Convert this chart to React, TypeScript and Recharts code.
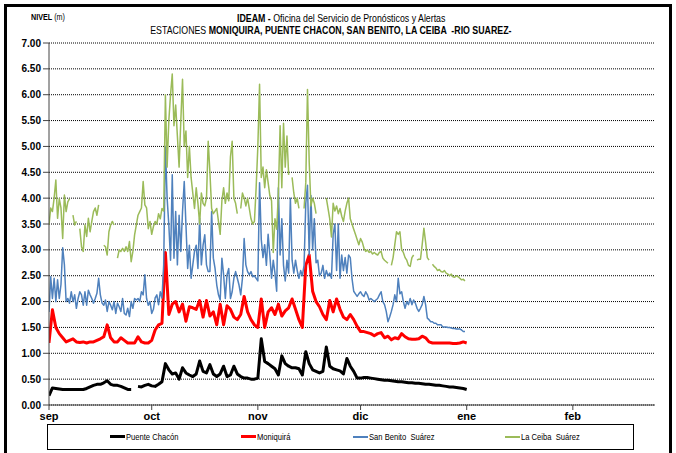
import React from 'react';
import { LineChart, Line, XAxis, YAxis, CartesianGrid } from 'recharts';

// eje X: dias desde el 1 de septiembre
const MONTHS = ['sep', 'oct', 'nov', 'dic', 'ene', 'feb'];
const MONTH_START_DAYS = [0, 30, 61, 91, 122, 153];
const LEVEL_TICKS = [0, 0.5, 1, 1.5, 2, 2.5, 3, 3.5, 4, 4.5, 5, 5.5, 6, 6.5, 7];

const SERIES_NAMES = ['Puente Chacón', 'Moniquirá', 'San Benito  Suárez', 'La Ceiba  Suárez'];
const SERIES_COLORS = ['#000000', '#ff0000', '#4f81bd', '#9bbb59'];

// Puente Chacón, una lectura diaria (sep 1 - ene 1)
const PUENTE_CHACON = [
  0.18, 0.33, 0.32, 0.31, 0.30, 0.30, 0.30, 0.30, 0.30, 0.30,
  0.30, 0.32, 0.35, 0.38, 0.40, 0.40, 0.43, 0.47, 0.40, 0.38,
  0.38, 0.36, 0.33, 0.30, 0.30, null, 0.36, 0.35, 0.38, 0.40,
  0.37, 0.36, 0.40, 0.45, 0.80, 0.68, 0.60, 0.62, 0.50, 0.72,
  0.62, 0.58, 0.55, 0.60, 0.85, 0.65, 0.62, 0.78, 0.60, 0.55,
  0.60, 0.75, 0.55, 0.58, 0.75, 0.60, 0.55, 0.52, 0.52, 0.50,
  0.50, 0.52, 1.28, 0.84, 0.80, 0.75, 0.70, 0.58, 0.95, 0.80,
  0.75, 0.72, 0.72, 0.70, 0.58, 1.03, 0.80, 0.68, 0.65, 0.62,
  0.65, 1.12, 0.75, 0.70, 0.68, 0.66, 0.60, 0.90, 0.75, 0.65,
  0.52, 0.52, 0.53, 0.53, 0.52, 0.51, 0.50, 0.49, 0.48, 0.48,
  0.47, 0.46, 0.45, 0.45, 0.44, 0.43, 0.43, 0.42, 0.42, 0.41,
  0.40, 0.40, 0.39, 0.38, 0.38, 0.37, 0.36, 0.35, 0.35, 0.34,
  0.33, 0.32, 0.30,
];

// Moniquirá, una lectura diaria
const MONIQUIRA = [
  1.20, 1.84, 1.50, 1.38, 1.30, 1.22, 1.25, 1.28, 1.22, 1.21,
  1.22, 1.20, 1.22, 1.22, 1.25, 1.28, 1.32, 1.55, 1.30, 1.22,
  1.22, 1.30, 1.25, 1.20, 1.20, 1.20, 1.32, 1.22, 1.20, 1.20,
  1.25, 1.45, 1.55, 1.58, 2.95, 1.75, 1.95, 2.00, 1.80, 1.95,
  1.62, 1.90, 1.88, 1.85, 2.02, 1.70, 2.02, 1.72, 1.80, 1.55,
  1.95, 1.55, 1.92, 1.85, 1.70, 1.65, 1.75, 2.10, 1.80, 1.65,
  1.55, 1.50, 2.05, 1.50, 1.80, 1.88, 1.75, 1.95, 1.72, 1.82,
  1.88, 2.05, 1.85, 1.65, 1.50, 2.70, 2.90, 2.20, 2.00, 1.90,
  1.75, 1.65, 2.02, 1.80, 2.05, 1.85, 1.70, 1.65, 1.75, 1.65,
  1.52, 1.42, 1.42, 1.40, 1.38, 1.34, 1.38, 1.40, 1.30, 1.33,
  1.26, 1.30, 1.28, 1.38, 1.32, 1.28, 1.27, 1.27, 1.28, 1.33,
  1.30, 1.22, 1.20, 1.20, 1.20, 1.20, 1.20, 1.20, 1.19, 1.19,
  1.20, 1.22, 1.20,
];

// San Benito Suárez, dos lecturas diarias
const SAN_BENITO = [
  1.80, 2.48, 2.06, 2.45, 2.00, 2.42, 2.06, 2.33, 3.04, 2.71,
  2.00, 2.06, 1.97, 2.19, 2.00, 2.13, 1.87, 2.06, 2.19, 2.13,
  1.93, 2.19, 1.93, 2.22, 2.13, 2.06, 1.97, 2.06, 2.16, 2.45,
  2.13, 1.97, 1.93, 2.03, 1.81, 2.00, 1.93, 1.84, 2.00, 1.77,
  1.97, 1.90, 1.81, 2.06, 1.77, 1.74, 1.87, 1.71, 2.00, 1.87,
  2.06, 2.03, 2.06, 2.00, 2.19, 2.13, 2.52, 2.06, 1.93, 2.00,
  1.77, 1.85, 2.07, 2.13, 1.94, 2.19, 2.07, 2.71, 5.00, 4.00,
  3.48, 2.80, 4.45, 2.84, 3.74, 2.71, 3.67, 2.97, 3.74, 4.32,
  3.48, 2.64, 3.09, 2.45, 2.71, 2.97, 3.09, 2.64, 3.61, 2.71,
  3.09, 3.29, 2.71, 2.58, 2.58, 3.74, 2.84, 2.64, 2.32, 2.13,
  2.03, 2.84, 2.52, 2.06, 2.52, 2.64, 2.06, 2.19, 2.45, 2.58,
  2.45, 2.32, 2.13, 2.45, 3.22, 2.71, 2.58, 2.52, 2.58, 2.48,
  2.50, 2.45, 2.40, 4.30, 3.20, 2.85, 3.10, 2.70, 3.30, 2.90,
  2.45, 2.80, 2.55, 2.20, 4.20, 2.90, 3.60, 2.70, 2.40, 2.80,
  2.55, 4.00, 2.80, 2.55, 2.80, 2.60, 2.45, 2.60, 2.50, 2.70,
  3.90, 4.25, 2.90, 4.05, 3.00, 3.60, 2.75, 2.80, 2.50, 2.55,
  2.70, 2.45, 2.60, 2.50, 2.55, 2.45, 3.30, 3.50, 2.60, 3.50,
  2.45, 2.90, 2.60, 2.85, 2.55, 2.90, 2.85, 2.45, 2.20, 2.15,
  2.10, 2.15, 2.19, 2.13, 2.10, 2.19, 2.13, 2.03, 2.06, 2.03,
  2.00, 2.03, 2.06, 2.13, 2.19, 2.00, 1.94, 1.81, 1.61, 1.70,
  1.81, 1.94, 2.13, 2.00, 2.45, 2.15, 2.19, 2.00, 1.87, 2.00,
  1.94, 2.06, 1.94, 2.03, 1.97, 1.87, 1.81, 1.87, 1.94, 2.10,
  1.94, 1.68, 1.65, 1.61, 1.61, 1.58, 1.58, 1.55, 1.55, 1.55,
  1.51, 1.51, 1.51, 1.50, 1.50, 1.49, 1.48, 1.48, 1.47, 1.47,
  1.47, 1.45, 1.42, 1.42,
];

// La Ceiba Suárez, dos lecturas diarias (null = sin dato)
const LA_CEIBA = [
  3.48, 3.81, 3.74, 4.00, 4.35, 3.61, 3.99, 3.81, 3.22, 4.06,
  3.74, 3.93, 3.99, null, 3.67, 3.48, 3.55, null, 3.41, 3.06,
  2.97, 3.48, 3.26, 3.61, 3.35, 3.55, 3.74, 3.81, 3.67, 3.87,
  null, null, 3.09, 3.06, 2.90, 3.35, 3.48, 3.55, 3.48, null,
  2.84, 3.00, 2.97, 3.03, 2.97, 3.06, 2.97, 3.16, 2.77, 2.97,
  3.29, 3.48, 3.67, 3.74, 3.81, 4.32, 3.87, 3.81, 3.41, 3.55,
  3.30, 3.45, 3.55, 3.50, 3.70, 3.60, 3.80, 3.75, 6.00, 4.60,
  5.50, 6.00, 6.40, 5.40, 5.80, 5.20, 4.60, 5.50, 6.30, 5.00,
  5.30, 4.40, 5.00, 4.40, 4.10, 3.80, 4.20, 3.90, 3.50, 4.10,
  3.90, 3.85, 4.00, 5.10, 4.50, 3.80, 3.70, 3.75, 3.80, 3.55,
  3.30, 3.95, 4.20, 3.90, 4.10, 3.95, 4.80, 5.10, 4.00, 3.90,
  3.70, null, 3.80, 4.10, 4.00, 3.85, 4.00, 3.80, 3.60, 3.50,
  3.55, 4.20, 5.00, 6.20, 4.40, 4.60, 4.20, 4.55, 4.30, 4.05,
  3.95, 2.95, 3.60, 3.40, 4.10, 5.40, 4.20, 5.45, 4.60, 5.20,
  4.45, null, 4.40, 4.10, 3.90, 4.00, 3.80, null, null, 3.80,
  4.30, 6.10, 4.70, 3.85, 4.00, 3.90, 3.70, null, null, null,
  null, null, 4.00, 3.80, 3.60, 3.25, 3.90, 3.75, 3.85, 3.70,
  3.80, 3.65, 3.55, 3.75, 3.90, 4.00, 3.60, 3.50, 3.40, 3.30,
  3.20, 3.10, 3.22, 3.15, 3.03, 2.97, 3.00, 2.95, 2.97, 2.92,
  2.95, 2.92, 2.90, 2.95, 2.97, 2.84, 2.80, 2.77, 2.74, null,
  2.70, 2.85, 3.10, 3.35, 3.30, 3.35, 3.00, 2.95, 2.85, 2.80,
  2.70, 2.68, 2.85, 2.90, null, 2.80, 2.82, 2.82, 3.10, 3.42,
  3.15, 2.85, 2.80, null, 2.72, 2.68, 2.65, 2.60, 2.62, 2.58,
  2.57, 2.60, 2.55, 2.53, 2.50, 2.53, 2.48, 2.47, 2.50, 2.48,
  2.45, 2.42, 2.43, 2.40,
];

const toPoints = (values: (number | null)[], step: number) =>
  values.map((v, i) => ({ x: i * step, y: v }));

const SERIES = [
  { name: SERIES_NAMES[0], color: SERIES_COLORS[0], width: 3, data: toPoints(PUENTE_CHACON, 1) },
  { name: SERIES_NAMES[1], color: SERIES_COLORS[1], width: 3, data: toPoints(MONIQUIRA, 1) },
  { name: SERIES_NAMES[2], color: SERIES_COLORS[2], width: 1.5, data: toPoints(SAN_BENITO, 0.5) },
  { name: SERIES_NAMES[3], color: SERIES_COLORS[3], width: 1.5, data: toPoints(LA_CEIBA, 0.5) },
];

// posicion de cada elemento de la leyenda (x en px de la pagina)
const LEGEND_X = [110, 241, 353, 505];

const ARIAL = "'Liberation Sans', Arial, sans-serif";
// no hay Arial Narrow: se comprime el texto a lo ancho
const NARROW: React.CSSProperties = { display: 'inline-block', transform: 'scaleX(0.8)', whiteSpace: 'pre' };

export default function App() {
  return (
    <div
      style={{
        position: 'absolute',
        left: 0,
        top: 0,
        width: 676,
        height: 453,
        overflow: 'hidden',
        background: '#fff',
        fontFamily: ARIAL,
      }}
    >
      <div
        style={{
          position: 'absolute',
          left: 4,
          top: 4,
          width: 662,
          height: 470,
          border: '3px solid #000',
        }}
      />

      <div style={{ position: 'absolute', left: 31, top: 12, fontSize: 9, lineHeight: '11px' }}>
        <span style={{ ...NARROW, transformOrigin: 'left center' }}>
          <b>NIVEL</b> (m)
        </span>
      </div>
      <div
        style={{
          position: 'absolute',
          left: 0,
          width: 682,
          top: 12,
          textAlign: 'center',
          fontSize: 11,
          lineHeight: '13px',
        }}
      >
        <span style={NARROW}>
          <b>IDEAM - </b>Oficina del Servicio de Pronósticos y Alertas
        </span>
      </div>
      <div
        style={{
          position: 'absolute',
          left: 0,
          width: 662,
          top: 24,
          textAlign: 'center',
          fontSize: 11,
          lineHeight: '13px',
        }}
      >
        <span style={NARROW}>
          ESTACIONES <b>MONIQUIRA, PUENTE CHACON, SAN BENITO, LA CEIBA  -RIO SUAREZ-</b>
        </span>
      </div>

      <div style={{ position: 'absolute', left: 0, top: 0 }}>
        <LineChart width={676} height={453} margin={{ top: 43, right: 21, bottom: 0, left: 0 }}>
          <CartesianGrid
            horizontal
            vertical={false}
            stroke="#000"
            strokeDasharray="1 1"
          />
          <XAxis
            dataKey="x"
            type="number"
            domain={[0, 177]}
            ticks={MONTH_START_DAYS}
            tickFormatter={(v: number) => MONTHS[MONTH_START_DAYS.indexOf(v)]}
            height={48}
            tickSize={5}
            tickMargin={2}
            stroke="#444"
            tick={{ fill: '#000', fontSize: 11, fontWeight: 'bold', fontFamily: ARIAL }}
            allowDataOverflow
          />
          <YAxis
            type="number"
            domain={[0, 7]}
            ticks={LEVEL_TICKS}
            tickFormatter={(v: number) => v.toFixed(2)}
            width={49}
            tickSize={6}
            tickMargin={2}
            stroke="#444"
            interval={0}
            tick={{ fill: '#000', fontSize: 10, fontWeight: 'bold', fontFamily: ARIAL }}
          />
          {SERIES.map((s) => (
            <Line
              key={s.name}
              data={s.data}
              dataKey="y"
              name={s.name}
              type="linear"
              stroke={s.color}
              strokeWidth={s.width}
              strokeLinejoin="round"
              dot={false}
              activeDot={false}
              connectNulls={false}
              isAnimationActive={false}
            />
          ))}
        </LineChart>
      </div>

      <div
        style={{
          position: 'absolute',
          left: 47,
          top: 424,
          width: 585,
          height: 24,
          border: '1px solid #000',
          background: '#fff',
        }}
      >
        {SERIES.map((s, i) => (
          <div
            key={s.name}
            style={{
              position: 'absolute',
              left: LEGEND_X[i] - 48,
              top: 5,
              display: 'flex',
              alignItems: 'center',
              fontSize: 9.5,
              lineHeight: '13px',
              whiteSpace: 'pre',
            }}
          >
            <span
              style={{
                display: 'inline-block',
                width: 15,
                height: s.width > 2 ? 3 : 2,
                background: s.color,
                marginRight: 1,
              }}
            />
            <span style={{ ...NARROW, transformOrigin: 'left center' }}>{s.name}</span>
          </div>
        ))}
      </div>
    </div>
  );
}
